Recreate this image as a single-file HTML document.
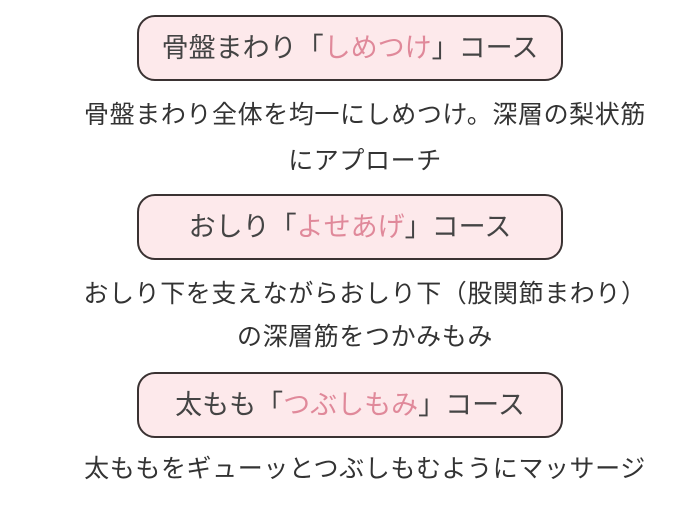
<!DOCTYPE html>
<html><head><meta charset="utf-8"><style>
body{margin:0;width:700px;height:525px;background:#fff;position:relative;font-family:"Liberation Sans","Noto Sans CJK JP",sans-serif;color:#333;overflow:hidden}
.box{position:absolute;left:137px;width:422px;height:62px;border:2px solid #3a3232;border-radius:18px;background:#fde9eb;text-align:center;line-height:62px;font-size:27px;color:#444}
.box span{color:#e0899a}
.t{position:absolute;left:15px;width:700px;text-align:center;font-size:25px;letter-spacing:0.6px;color:#333;white-space:nowrap}
</style></head><body>
<div class="box" style="top:15px">骨盤まわり「<span>しめつけ</span>」コース</div>
<div class="t" style="top:95px">骨盤まわり全体を均一にしめつけ。深層の梨状筋</div>
<div class="t" style="top:141px">にアプローチ</div>
<div class="box" style="top:194px">おしり「<span>よせあげ</span>」コース</div>
<div class="t" style="top:274px">おしり下を支えながらおしり下（股関節まわり）</div>
<div class="t" style="top:317px">の深層筋をつかみもみ</div>
<div class="box" style="top:372px">太もも「<span>つぶしもみ</span>」コース</div>
<div class="t" style="top:449px">太ももをギューッとつぶしもむようにマッサージ</div>
</body></html>
